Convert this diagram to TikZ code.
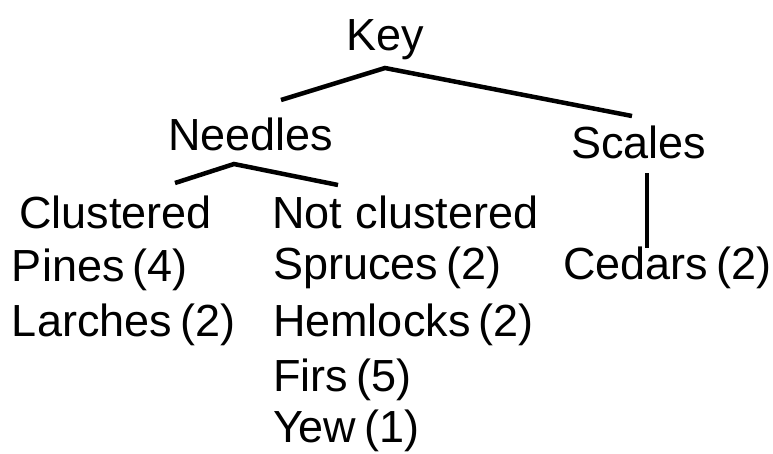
\documentclass[tikz,border=0pt]{standalone}
\usepackage{fontspec}
\setmainfont[WordSpace=0.65]{Liberation Sans}
\begin{document}
\begin{tikzpicture}[x=1pt,y=-1pt,
  lbl/.style={anchor=base west,inner sep=0pt,outer sep=0pt,font=\fontsize{45}{54}\selectfont},
  branch/.style={line width=4.5pt}]
\useasboundingbox (0,0) rectangle (773,453);
\node[lbl] (key) at (346,50) {Key};
\node[lbl] (needles) at (168,150) {Needles};
\node[lbl] (scales) at (571,158) {Scales};
\node[lbl] (clus) at (19,228) {Clustered};
\node[lbl] (notclus) at (272,228) {Not\hspace{0.3em}clustered};
\node[lbl] (pines) at (12,281) {Pines (4)};
\node[lbl] (larches) at (12,336) {Larches (2)};
\node[lbl] (spruces) at (273,279) {Spruces (2)};
\node[lbl] (hemlocks) at (273,336) {Hemlocks (2)};
\node[lbl] (firs) at (273,391) {Firs (5)};
\node[lbl] (yew) at (273,442) {Yew (1)};
\node[lbl] (cedars) at (563,279) {Cedars (2)};
% key bracket
\coordinate (kl) at (281,100);
\coordinate (kp) at (385,68);
\coordinate (kr) at (632,116);
\draw[branch] (kl) -- (kp) -- (kr);
% needles bracket
\coordinate (nl) at (175,183);
\coordinate (np) at (234,164);
\coordinate (nr) at (338,185);
\draw[branch] (nl) -- (np) -- (nr);
% scales line
\coordinate (st) at (647,173);
\coordinate (sb) at (647,248);
\draw[line width=3.5pt] (st) -- (sb);
\end{tikzpicture}
\end{document}
